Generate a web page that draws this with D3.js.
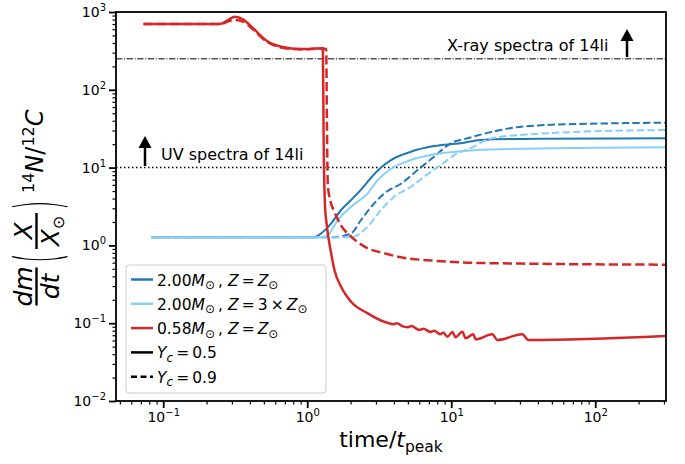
<!DOCTYPE html>
<html>
<head>
<meta charset="utf-8">
<script src="https://cdn.jsdelivr.net/npm/d3@7"></script>
<style>
  body { margin: 0; background: #fff; }
  svg text { font-family: "DejaVu Sans", sans-serif; fill: #000; }
</style>
</head>
<body>
<div id="chart"></div>
<script>
// series: [time/t_peak, value]
const m200Z1Y05 = [[0.083,1.27],[1.118,1.27],[1.25,1.43],[1.466,1.92],[1.719,2.85],[2.016,3.83],[2.364,5.2],
  [2.773,7.4],[3.252,10.0],[3.813,12.5],[5.245,16.0],[7.6,18.9],[11.63,20.5],[16,22.7],[40,23.5],[310,23.8]];
const m200Z1Y09 = [[0.083,1.27],[1.5,1.27],[2.016,1.43],[2.364,2.12],[2.922,3.48],[3.618,5.0],[4.472,6.2],
  [5.84,9.31],[7.6,13.8],[9.92,20.5],[12.95,23.8],[22,30.4],[27.2,32.6],[46.3,35.3],[134,37.1],[310,37.8]];
const m200Z3Y05 = [[0.083,1.27],[1.25,1.27],[1.391,1.36],[1.631,2.12],[2.016,3.14],[2.63,4.67],[3.084,6.9],
  [3.813,9.6],[5.245,12.5],[7.6,14.8],[12.95,16.5],[22,17.2],[310,18.2]];
const m200Z3Y09 = [[0.083,1.27],[2.016,1.27],[2.63,1.74],[3.252,2.85],[4.02,4.23],[5.245,5.68],[6.483,7.64],
  [8.46,10.8],[11.04,15.3],[14.38,18.6],[16,21.0],[20.87,24.5],[35.5,26.8],[78.7,28.9],[310,30.4]];
const m058Z1Y05 = [[0.073,701],[0.246,701],[0.283,790],[0.313,870],[0.36,800],[0.41,647],[0.535,415],[0.66,358],
  [0.909,334],[1.284,341],[1.30,22.6],[1.33,3.1],[1.354,2.12],[1.466,0.792],[1.545,0.483],[1.719,0.294],
  [2.016,0.189],[2.63,0.134],[3.428,0.1045],[4.0,0.097],[4.2,0.1],[4.6,0.091],[5.0,0.089],[5.3,0.092],
  [6.0,0.082],[6.4,0.085],[7.2,0.077],[7.6,0.08],[8.4,0.072],[8.8,0.076],[9.41,0.067],[10.2,0.077],
  [10.7,0.066],[11.94,0.0775],[12.6,0.064],[14.2,0.072],[14.8,0.062],[19.3,0.072],[20.9,0.0608],
  [31.1,0.072],[34.5,0.0608],[310,0.0684]];
const m058Z1Y09 = [[0.073,701],[0.25,701],[0.283,760],[0.313,790],[0.36,750],[0.41,620],[0.535,405],[0.66,350],
  [0.909,330],[1.284,338],[1.354,335],[1.37,40],[1.39,6],[1.45,3.7],[1.545,2.7],[1.719,1.8],[2.016,1.3],
  [2.63,0.918],[3.428,0.792],[4.472,0.703],[7.6,0.636],[12.95,0.6],[22,0.589],[310,0.565]];

const xDomain = [0.047, 310];
const yDomain = [1e-2, 1e3];
const xMajor = [0.1, 1, 10, 100];
const yMajor = [1e-2, 1e-1, 1, 10, 100, 1000];
const xrayLevel = 250;
const uvLevel = 10;

const colDark = "#1f77b4", colLight = "#87cefa", colRed = "#d62728";

const series = [
  {data: m200Z1Y05, color: colDark, dash: null, w: 2},
  {data: m200Z1Y09, color: colDark, dash: "7.4,3.2", w: 2},
  {data: m200Z3Y05, color: colLight, dash: null, w: 2},
  {data: m200Z3Y09, color: colLight, dash: "7.4,3.2", w: 2},
  {data: m058Z1Y05, color: colRed, dash: null, w: 2.5},
  {data: m058Z1Y09, color: colRed, dash: "9.25,4", w: 2.5}
];

const W = 685, H = 464;
const L = 116, R = 666, T = 12, B = 401;

const svg = d3.select("#chart").append("svg").attr("width", W).attr("height", H);

const x = d3.scaleLog().domain(xDomain).range([L, R]);
const y = d3.scaleLog().domain(yDomain).range([B, T]);

svg.append("clipPath").attr("id", "clip")
  .append("rect").attr("x", L).attr("y", T).attr("width", R - L).attr("height", B - T);

// minor ticks
function minors(domain) {
  const out = [];
  for (let e = -3; e <= 3; e++) for (let k = 2; k <= 9; k++) {
    const v = k * Math.pow(10, e);
    if (v >= domain[0] * 0.999 && v <= domain[1] * 1.001) out.push(v);
  }
  return out;
}

const supLabel = function(d) {
  const e = Math.round(Math.log10(d));
  const t = d3.select(this);
  t.text(null).attr("font-size", 14).attr("font-family", "DejaVu Sans");
  t.append("tspan").text("10");
  t.append("tspan").attr("dy", -6).attr("font-size", 10).text(e < 0 ? "\u2212" + (-e) : e);
};

const xMinorG = svg.append("g").attr("transform", `translate(0,${B})`)
  .call(d3.axisBottom(x).tickValues(minors(xDomain)).tickSize(3.5).tickFormat(""));
const xMajorG = svg.append("g").attr("transform", `translate(0,${B})`)
  .call(d3.axisBottom(x).tickValues(xMajor).tickSize(7).tickPadding(4));
const yMinorG = svg.append("g").attr("transform", `translate(${L},0)`)
  .call(d3.axisLeft(y).tickValues(minors(yDomain)).tickSize(3.5).tickFormat(""));
const yMajorG = svg.append("g").attr("transform", `translate(${L},0)`)
  .call(d3.axisLeft(y).tickValues(yMajor).tickSize(7).tickPadding(3));

[xMinorG, xMajorG, yMinorG, yMajorG].forEach(g => {
  g.select(".domain").remove();
  g.selectAll(".tick line").attr("stroke", "#000");
});
[xMinorG, yMinorG].forEach(g => g.selectAll(".tick line").attr("stroke-width", 1.2));
[xMajorG, yMajorG].forEach(g => g.selectAll(".tick line").attr("stroke-width", 1.8));
xMajorG.selectAll(".tick text").each(supLabel);
yMajorG.selectAll(".tick text").each(supLabel);

// reference levels
const plot = svg.append("g").attr("clip-path", "url(#clip)");
plot.append("line").attr("x1", L).attr("x2", R).attr("y1", y(xrayLevel)).attr("y2", y(xrayLevel))
  .attr("stroke", "#000").attr("stroke-width", 1).attr("stroke-dasharray", "6.4,1.6,1,1.6");
plot.append("line").attr("x1", L).attr("x2", R).attr("y1", y(uvLevel)).attr("y2", y(uvLevel))
  .attr("stroke", "#000").attr("stroke-width", 1.5).attr("stroke-dasharray", "1.5,2.5");

const line = d3.line().x(d => x(d[0])).y(d => y(d[1])).curve(d3.curveMonotoneX);

plot.selectAll("path.series").data(series).enter().append("path")
  .attr("class", "series")
  .attr("d", d => line(d.data))
  .attr("fill", "none")
  .attr("stroke", d => d.color)
  .attr("stroke-width", d => d.w)
  .attr("stroke-dasharray", d => d.dash);

// frame
svg.append("rect").attr("x", L).attr("y", T).attr("width", R - L).attr("height", B - T)
  .attr("fill", "none").attr("stroke", "#000").attr("stroke-width", 1.8);

// annotations with arrows
function arrow(cx, y0, y1) {
  svg.append("line").attr("x1", cx).attr("x2", cx).attr("y1", y0).attr("y2", y1 + 10)
    .attr("stroke", "#000").attr("stroke-width", 2.5);
  svg.append("path").attr("d", `M${cx - 6.5},${y1 + 12} L${cx},${y1} L${cx + 6.5},${y1 + 12} Z`).attr("fill", "#000");
}
svg.append("text").attr("x", 447).attr("y", 51).attr("font-size", 16).text("X-ray spectra of 14li");
arrow(627, 57, 29);
svg.append("text").attr("x", 161).attr("y", 160).attr("font-size", 16).text("UV spectra of 14li");
arrow(145, 166, 136);

// axis labels
const xl = svg.append("text").attr("x", 391).attr("y", 447).attr("text-anchor", "middle").attr("font-size", 22);
xl.append("tspan").text("time/");
xl.append("tspan").attr("font-style", "italic").text("t");
xl.append("tspan").attr("dy", 5).attr("font-size", 15.5).text("peak");

const yl = svg.append("g").attr("transform", "translate(43,305) rotate(-90)");
const fs = 24;
function frac(cx, num, den, w) {
  yl.append("text").attr("x", cx).attr("y", -11).attr("text-anchor", "middle")
    .attr("font-size", fs + 1).attr("font-style", "italic").text(num);
  yl.append("line").attr("x1", cx - w / 2).attr("x2", cx + w / 2).attr("y1", -6.5).attr("y2", -6.5)
    .attr("stroke", "#000").attr("stroke-width", 2.4);
  const dt = yl.append("text").attr("x", cx).attr("y", 16).attr("text-anchor", "middle").attr("font-size", fs + 1);
  den.forEach(p => {
    const s = dt.append("tspan").attr("font-style", p.i ? "italic" : "normal").text(p.t);
    if (p.sub) s.attr("font-size", 16).attr("dy", 5);
  });
}
frac(18.5, "dm", [{t: "dt", i: true}], 38);
function paren(lx, ch) {
  yl.append("g").attr("transform", `translate(${lx},16) scale(1,2.6)`)
    .append("text").attr("font-size", 24).attr("font-weight", 300).text(ch);
}
paren(42, "(");
frac(74, "X", [{t: "X", i: true}, {t: "\u2299", sub: true}], 36);
paren(95, ")");
const nc = yl.append("text").attr("x", 112).attr("y", 0).attr("font-size", fs);
nc.append("tspan").attr("dy", -9).attr("font-size", 16).text("14");
nc.append("tspan").attr("dy", 9).attr("font-style", "italic").text("N");
nc.append("tspan").text("/");
nc.append("tspan").attr("dy", -9).attr("font-size", 16).text("12");
nc.append("tspan").attr("dy", 9).attr("font-style", "italic").text("C");

// legend
const legendRows = [
  {color: colDark, dash: null, parts: [{t: "2.00"}, {t: "M", i: 1}, {t: "\u2299", s: 1}, {t: "\u2009, "}, {t: "Z", i: 1}, {t: "\u2009=\u2009"}, {t: "Z", i: 1}, {t: "\u2299", s: 1}]},
  {color: colLight, dash: null, parts: [{t: "2.00"}, {t: "M", i: 1}, {t: "\u2299", s: 1}, {t: "\u2009, "}, {t: "Z", i: 1}, {t: "\u2009=\u20093\u2009\u00d7\u2009"}, {t: "Z", i: 1}, {t: "\u2299", s: 1}]},
  {color: colRed, dash: null, parts: [{t: "0.58"}, {t: "M", i: 1}, {t: "\u2299", s: 1}, {t: "\u2009, "}, {t: "Z", i: 1}, {t: "\u2009=\u2009"}, {t: "Z", i: 1}, {t: "\u2299", s: 1}]},
  {color: "#000", dash: null, parts: [{t: "Y", i: 1}, {t: "c", i: 1, s: 1}, {t: "\u2009=\u20090.5"}]},
  {color: "#000", dash: "6,3.5", parts: [{t: "Y", i: 1}, {t: "c", i: 1, s: 1}, {t: "\u2009=\u20090.9"}]}
];
const lg = svg.append("g");
lg.append("rect").attr("x", 126).attr("y", 265).attr("width", 200).attr("height", 128).attr("rx", 3)
  .attr("fill", "#fff").attr("fill-opacity", 0.8).attr("stroke", "#ccc").attr("stroke-width", 1);
legendRows.forEach((r, i) => {
  const cy = 279.5 + i * 24.3;
  lg.append("line").attr("x1", 131).attr("x2", 153).attr("y1", cy).attr("y2", cy)
    .attr("stroke", r.color).attr("stroke-width", 2.5).attr("stroke-dasharray", r.dash);
  const t = lg.append("text").attr("x", 157).attr("y", cy + 6).attr("font-size", 15.5);
  let shifted = false;
  r.parts.forEach(p => {
    const s = t.append("tspan").attr("font-style", p.i ? "italic" : "normal").text(p.t);
    if (p.s) { s.attr("font-size", 12).attr("dy", 3.5); shifted = true; }
    else if (shifted) { s.attr("dy", -3.5); shifted = false; }
  });
});
</script>
</body>
</html>
